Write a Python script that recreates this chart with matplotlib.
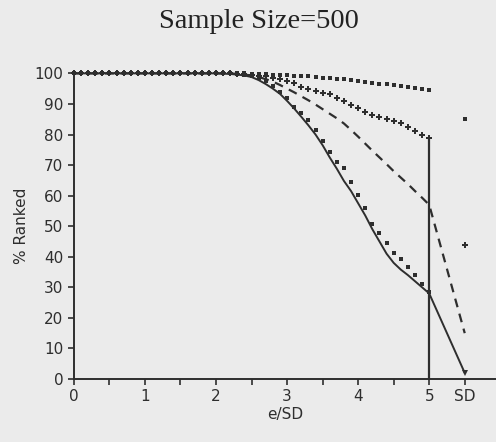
import numpy as np
import matplotlib.pyplot as plt

# x positions every 0.1 from 0 to 5 (e/SD); "SD" column plotted at 5.5
x = np.round(np.arange(0, 5.01, 0.1), 1)
x_sd = 5.5

# upper dotted series (small squares)
dot_y = [100] * 25 + [99.9, 99.8, 99.7, 99.6, 99.5, 99.4, 99.3, 99.2, 99.0, 98.8,
                      98.6, 98.4, 98.2, 98.0, 97.7, 97.4, 97.1, 96.8, 96.6, 96.4,
                      96.1, 95.8, 95.5, 95.2, 94.9, 94.6]
dot_sd = 85

# upper plus series
plus_y = [100] * 23 + [99.9, 99.8, 99.6, 99.3, 99.0, 98.5, 98.0, 97.4, 96.8, 95.7,
                       95.0, 94.3, 93.7, 93.2, 92.0, 90.8, 89.7, 88.6, 87.5, 86.4,
                       85.7, 85.0, 84.4, 83.7, 82.5, 81.2, 80.0, 79.0]
plus_sd = 44

# dashed series
dash_y = [100] * 23 + [99.8, 99.6, 99.3, 98.8, 98.1, 97.3, 96.2, 95.0, 93.8, 92.5,
                       91.2, 89.8, 88.3, 86.8, 85.3, 83.6, 81.5, 79.3, 77.0, 74.7,
                       72.5, 70.3, 68.0, 65.9, 63.8, 61.5, 59.3, 57.0]
dash_sd = 15

# solid series
solid_y = [100] * 21 + [99.9, 99.8, 99.6, 99.3, 98.8, 97.8, 96.5, 95.0, 93.3, 91.0,
                        88.5, 85.8, 83.0, 80.0, 76.5, 72.5, 68.8, 64.8, 61.5, 57.5,
                        53.5, 49.0, 45.0, 41.0, 38.0, 35.8, 34.0, 32.0, 30.0, 28.0]
solid_sd = 2

# lower marker series (near the solid line)
low_y = [100] * 23 + [99.9, 99.6, 99.2, 98.5, 97.5, 96.0, 94.0, 91.8, 89.0, 87.0,
                      84.8, 81.5, 78.0, 74.3, 71.0, 69.0, 64.3, 60.2, 56.0, 50.7,
                      47.8, 44.5, 41.3, 39.2, 36.7, 34.0, 31.0, 28.5]
low_sd = 2

ink = '#2e2e2e'
bg = '#ebebeb'

fig = plt.figure(figsize=(4.96, 4.42), dpi=100, facecolor=bg)
ax = fig.add_axes([0.149, 0.1425, 0.851, 0.6915], facecolor=bg)

ax.plot(x, dot_y, 's', color=ink, markersize=2.6, markeredgewidth=0, clip_on=False)
ax.plot([x_sd], [dot_sd], 's', color=ink, markersize=3, markeredgewidth=0)

ax.plot(x, plus_y, 'P', color=ink, markersize=5, markeredgewidth=0, clip_on=False)
ax.plot([x_sd], [plus_sd], 'P', color=ink, markersize=5, markeredgewidth=0)

ax.plot(list(x) + [x_sd], dash_y + [dash_sd], '--', color=ink, lw=1.6,
        dashes=(4, 3), clip_on=False)
ax.plot(list(x) + [x_sd], solid_y + [solid_sd], '-', color=ink, lw=1.4, clip_on=False)

ax.plot(x, low_y, 's', color=ink, markersize=3.1, markeredgewidth=0, clip_on=False)
ax.plot([x_sd], [low_sd], 'v', color=ink, markersize=4, markeredgewidth=0)

# vertical marker at e/SD = 5 up to the plus series value
ax.vlines(5, 0, plus_y[-1], color=ink, lw=1.6)

ax.set_xlim(0, 5.94)
ax.set_ylim(0, 100)
ax.spines['top'].set_visible(False)
ax.spines['right'].set_visible(False)
for s in ('left', 'bottom'):
    ax.spines[s].set_color(ink)
    ax.spines[s].set_linewidth(1.4)

ax.set_xticks([0, 1, 2, 3, 4, 5, 5.5])
ax.set_xticklabels(['0', '1', '2', '3', '4', '5', 'SD'])
ax.set_xticks([0.5, 1.5, 2.5, 3.5, 4.5], minor=True)
ax.set_yticks(range(0, 101, 10))
ax.tick_params(which='both', direction='out', color=ink, width=1.2,
               labelsize=11, labelcolor=ink)
ax.tick_params(which='major', length=4)
ax.tick_params(which='minor', length=4)

ax.set_xlabel('e/SD', fontsize=11, color=ink, labelpad=2)
ax.set_ylabel('% Ranked', fontsize=11, color=ink, labelpad=4)

fig.text(0.522, 0.952, 'Sample Size=500', ha='center', va='center',
         family='Liberation Serif', fontsize=20.5, color='#222222')

fig.savefig('out.png', dpi=100, facecolor=bg)
